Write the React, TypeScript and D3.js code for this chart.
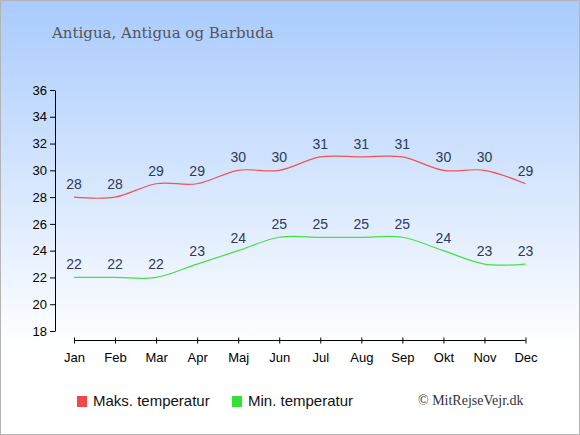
import { useEffect, useRef } from 'react'
import * as d3 from 'd3'

const months = ['Jan', 'Feb', 'Mar', 'Apr', 'Maj', 'Jun', 'Jul', 'Aug', 'Sep', 'Okt', 'Nov', 'Dec']
const maxTemp = [28, 28, 29, 29, 30, 30, 31, 31, 31, 30, 30, 29]
const minTemp = [22, 22, 22, 23, 24, 25, 25, 25, 25, 24, 23, 23]
const yTicks = [18, 20, 22, 24, 26, 28, 30, 32, 34, 36]

const W = 580, H = 435

export default function App() {
  const svgRef = useRef<SVGSVGElement>(null)

  useEffect(() => {
    document.body.style.margin = '0'
    const svg = d3.select(svgRef.current)
    svg.selectAll('*').remove()
    svg.attr('width', W).attr('height', H)

    // Background gradient
    const defs = svg.append('defs')
    const grad = defs.append('linearGradient').attr('id', 'bg').attr('x1', 0).attr('y1', 0).attr('x2', 0).attr('y2', 1)
    grad.append('stop').attr('offset', '0%').attr('stop-color', '#a9cbfd')
    grad.append('stop').attr('offset', '80%').attr('stop-color', '#ffffff')
    grad.append('stop').attr('offset', '100%').attr('stop-color', '#ffffff')
    svg.append('rect').attr('x', 0.5).attr('y', 0.5).attr('width', W - 1).attr('height', H - 1)
      .attr('fill', 'url(#bg)').attr('stroke', '#b4b4b4').attr('stroke-width', 1)

    const g = svg.append('g')

    // Title
    g.append('text').attr('x', 52).attr('y', 38).attr('fill', '#555')
      .attr('font-family', '"DejaVu Serif", serif').attr('font-size', '15px')
      .text('Antigua, Antigua og Barbuda')

    const x = d3.scalePoint<string>().domain(months).range([74, 525.5])
    const y = d3.scaleLinear().domain([18, 36]).range([331, 90])

    // Y axis
    const yAxis = g.append('g').attr('transform', 'translate(55,0)')
      .call(d3.axisLeft(y).tickValues(yTicks).tickSize(5).tickSizeOuter(0).tickFormat(d3.format('d')))
    yAxis.select('.domain').attr('stroke', '#000')
    yAxis.selectAll('text').attr('font-family', '"Liberation Sans", Arial, sans-serif')
      .attr('font-size', '13px').attr('fill', '#000')

    // X axis
    const xAxis = g.append('g').attr('transform', 'translate(0,340.5)')
      .call(d3.axisBottom(x).tickSize(4).tickSizeOuter(0).tickPadding(8))
    xAxis.select('.domain').attr('d', `M${x('Jan')},0H${x('Dec')}`).attr('stroke', '#000')
    xAxis.selectAll('.tick line').attr('y1', -3).attr('y2', 3)
    xAxis.selectAll('text').attr('font-family', '"Liberation Sans", Arial, sans-serif')
      .attr('font-size', '13px').attr('fill', '#000')

    const line = d3.line<number>()
      .x((_, i) => x(months[i]) as number)
      .y((d) => y(d))
      .curve(d3.curveCardinal)

    const series = [
      { data: maxTemp, color: '#f05555' },
      { data: minTemp, color: '#44e044' },
    ]
    series.forEach(({ data, color }) => {
      g.append('path').attr('d', line(data)).attr('fill', 'none')
        .attr('stroke', color).attr('stroke-width', 1.2)
      data.forEach((v, i) => {
        g.append('text').attr('x', x(months[i]) as number).attr('y', y(v) - 8)
          .attr('text-anchor', 'middle').attr('fill', '#2a3a5c')
          .attr('font-family', '"Liberation Sans", Arial, sans-serif').attr('font-size', '14px')
          .text(v)
      })
    })

    // Legend
    const legend = [
      { label: 'Maks. temperatur', color: '#f04848', x: 77 },
      { label: 'Min. temperatur', color: '#33e033', x: 232 },
    ]
    legend.forEach((l) => {
      g.append('rect').attr('x', l.x).attr('y', 396).attr('width', 10).attr('height', 11).attr('fill', l.color)
      g.append('text').attr('x', l.x + 16).attr('y', 406).attr('fill', '#111')
        .attr('font-family', '"Liberation Sans", Arial, sans-serif').attr('font-size', '15px')
        .text(l.label)
    })
    g.append('text').attr('x', 418).attr('y', 405).attr('fill', '#333')
      .attr('font-family', '"Liberation Serif", serif').attr('font-size', '14px')
      .text('© MitRejseVejr.dk')
  }, [])

  return <svg ref={svgRef} style={{ display: 'block' }} />
}
